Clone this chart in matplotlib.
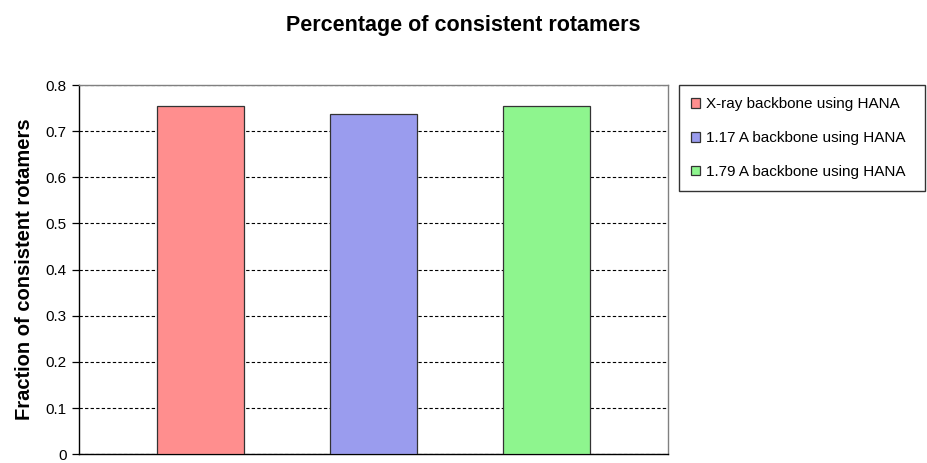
import matplotlib
matplotlib.use("Agg")
import matplotlib.pyplot as plt

plt.rcParams["font.family"] = ["Liberation Sans", "DejaVu Sans"]

# Fraction of consistent rotamers per backbone
series = ["X-ray backbone using HANA", "1.17 A backbone using HANA", "1.79 A backbone using HANA"]
fractions = [0.754, 0.738, 0.754]
colors = ["#ff8e8e", "#9a9cee", "#8ef58e"]
yticks = [0, 0.1, 0.2, 0.3, 0.4, 0.5, 0.6, 0.7, 0.8]
ytick_labels = ["0", "0.1", "0.2", "0.3", "0.4", "0.5", "0.6", "0.7", "0.8"]

fig = plt.figure(figsize=(9.27, 4.63), dpi=100)
ax = fig.add_axes([0.0852, 0.019, 0.6354, 0.7974])

for i, (name, val, col) in enumerate(zip(series, fractions, colors)):
    ax.bar(i, val, width=0.5, color=col, edgecolor="#333333", linewidth=0.9,
           label=name, zorder=3)

ax.set_xlim(-0.7, 2.7)
ax.set_ylim(0, 0.8)
ax.set_yticks(yticks)
ax.set_yticklabels(ytick_labels, fontsize=11)
ax.set_xticks([])
ax.tick_params(axis="y", direction="out", length=5, width=0.9, pad=4)

ax.grid(axis="y", color="black", linestyle=(0, (3, 2)), linewidth=0.8, zorder=0)
ax.spines["left"].set_color("black")
ax.spines["bottom"].set_color("black")
ax.spines["top"].set_color("#808080")
ax.spines["right"].set_color("#808080")
for s in ax.spines.values():
    s.set_linewidth(1.0)

ax.set_ylabel("Fraction of consistent rotamers", fontsize=14.5, fontweight="bold", labelpad=8)
fig.text(0.4995, 0.945, "Percentage of consistent rotamers", fontsize=15.5,
         fontweight="bold", ha="center", va="center")

leg = fig.legend(loc="upper left", bbox_to_anchor=(679 / 927, 0, 246 / 927, 1 - 85 / 463),
                 mode="expand", fontsize=11, frameon=True, fancybox=False,
                 edgecolor="black", borderpad=0.8, labelspacing=1.3,
                 handlelength=0.6, handleheight=0.6, handletextpad=0.35,
                 borderaxespad=0)
leg.get_frame().set_linewidth(1.0)

fig.savefig("out.png", dpi=100)
